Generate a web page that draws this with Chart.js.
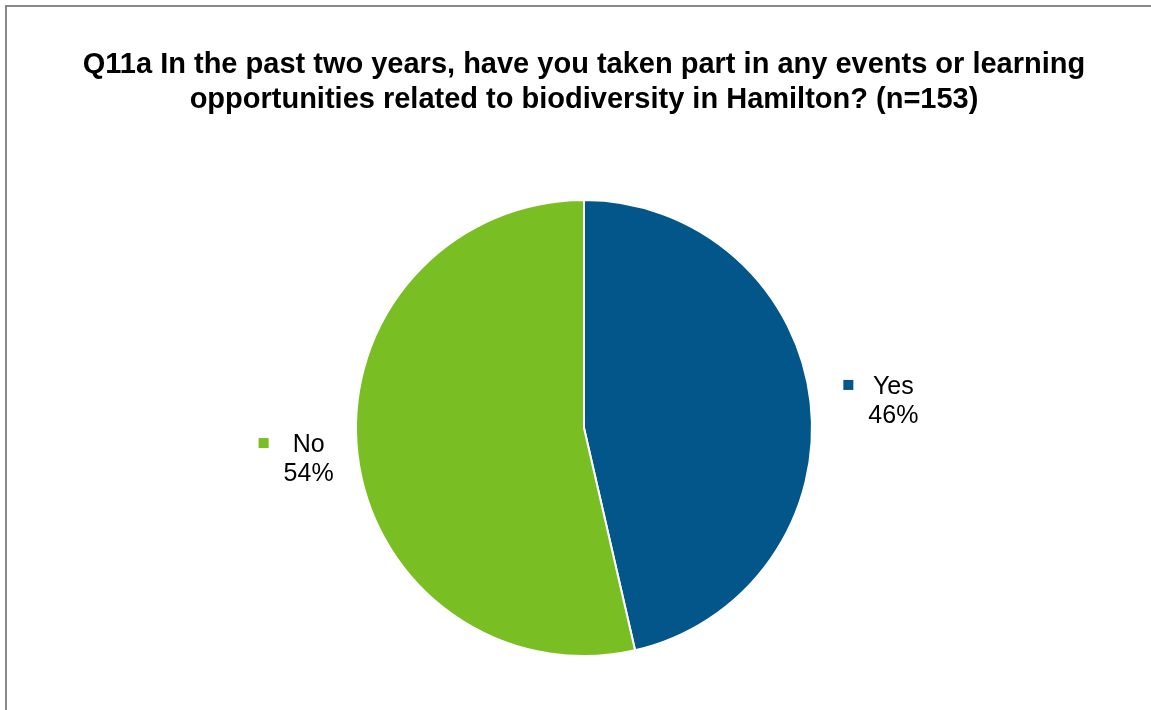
<!DOCTYPE html>
<html>
<head>
<meta charset="utf-8">
<title>Q11a biodiversity events</title>
<script src="https://cdn.jsdelivr.net/npm/chart.js@4/dist/chart.umd.min.js"></script>
<style>
    html, body { margin: 0; padding: 0; background: #fff; overflow: hidden; }
    #wrap { position: absolute; left: 0; top: 0; width: 1151px; height: 710px; }
</style>
</head>
<body>
<div id="wrap"><canvas id="grafico" width="1151" height="710"></canvas></div>
<script>
// data (n=153 respondents)
const categorias = ['Yes', 'No'];
const conteos = [71, 82];
const colores = ['#02568A', '#79BE22'];
const tituloLineas = [
    'Q11a In the past two years, have you taken part in any events or learning',
    'opportunities related to biodiversity in Hamilton? (n=153)'
];

const FUENTE = '"Liberation Sans", Arial, Helvetica, sans-serif';
const total = conteos.reduce((a, b) => a + b, 0);

// gray frame of the chart box (runs off the right/bottom edge)
const marcoPlugin = {
    id: 'marco',
    beforeDraw(chart) {
        const ctx = chart.ctx;
        ctx.save();
        ctx.fillStyle = '#fff';
        ctx.fillRect(0, 0, chart.width, chart.height);
        ctx.strokeStyle = '#898989';
        ctx.lineWidth = 2;
        ctx.strokeRect(6, 6, 1300, 900);
        ctx.restore();
    }
};

// data labels: legend key + category + percent, placed outside each slice
const etiquetasPlugin = {
    id: 'etiquetas',
    afterDatasetsDraw(chart) {
        const ctx = chart.ctx;
        const meta = chart.getDatasetMeta(0);
        ctx.save();
        ctx.font = '25px ' + FUENTE;
        ctx.textAlign = 'center';
        ctx.textBaseline = 'alphabetic';
        meta.data.forEach((arc, i) => {
            const mid = (arc.startAngle + arc.endAngle) / 2;
            const dist = arc.outerRadius + 30;
            const ax = arc.x + Math.cos(mid) * dist;
            const ay = arc.y + Math.sin(mid) * dist;
            const linea1 = categorias[i];
            const linea2 = Math.round(conteos[i] / total * 100) + '%';
            const textW = Math.max(ctx.measureText(linea1).width, ctx.measureText(linea2).width);
            const cuadro = 10, gap = 15;
            const anchoBloque = cuadro + gap + textW;
            let izq;
            if (Math.cos(mid) >= 0) {
                izq = ax + 3;
            } else {
                izq = ax + 6 - anchoBloque;
            }
            const cx = izq + cuadro + gap + textW / 2;
            const base1 = ay - 5;
            const base2 = ay + 24;
            ctx.fillStyle = colores[i];
            ctx.fillRect(izq, base1 - 14, cuadro, cuadro);
            ctx.fillStyle = '#000';
            ctx.fillText(linea1, cx, base1);
            ctx.fillText(linea2, cx, base2);
        });
        ctx.restore();
    }
};

const ctx = document.getElementById('grafico').getContext('2d');
new Chart(ctx, {
    type: 'pie',
    data: {
        labels: categorias,
        datasets: [{
            data: conteos,
            backgroundColor: colores,
            borderColor: '#ffffff',
            borderWidth: 2,
            radius: 228
        }]
    },
    options: {
        responsive: false,
        animation: false,
        radius: 228,
        layout: { padding: { left: 17, right: 0, top: 0, bottom: 0 } },
        plugins: {
            legend: { display: false },
            tooltip: { enabled: false },
            title: {
                display: true,
                text: tituloLineas,
                color: '#000',
                font: { family: FUENTE, size: 29, weight: 'bold', lineHeight: 35 / 29 },
                padding: { top: 47, bottom: 29 }
            }
        }
    },
    plugins: [marcoPlugin, etiquetasPlugin]
});
</script>
</body>
</html>
